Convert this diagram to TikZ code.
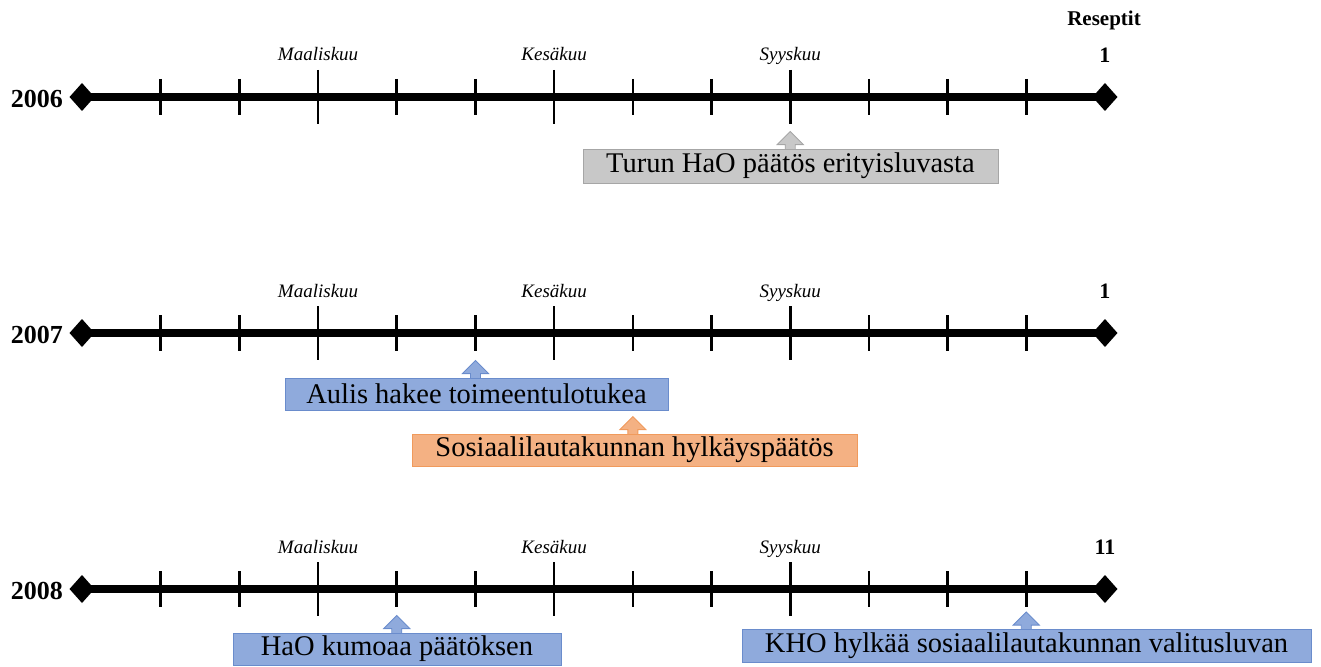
\documentclass[tikz,border=0pt]{standalone}
\usepackage{fontspec}
\setmainfont{Liberation Serif}
\usetikzlibrary{calc}
\definecolor{grayfill}{HTML}{C8C8C8}
\definecolor{grayline}{HTML}{A6A6A6}
\definecolor{bluefill}{HTML}{8FAADC}
\definecolor{blueline}{HTML}{6A8CCC}
\definecolor{orangefill}{HTML}{F4B183}
\definecolor{orangeline}{HTML}{F09A5C}
\tikzset{
  axis/.style={line width=8pt},
  endmark/.style={fill=black, draw=none},
  minortick/.style={line width=2.6pt},
  majortick/.style={line width=2.6pt},
  yearlabel/.style={anchor=east, inner sep=0pt, font=\fontsize{26}{28}\selectfont\bfseries},
  monthlabel/.style={anchor=base, inner sep=0pt, font=\fontsize{19}{21}\selectfont\itshape},
  countlabel/.style={inner sep=0pt, font=\fontsize{22}{24}\selectfont\bfseries},
  eventbox/.style={inner sep=0pt, line width=0.9pt, font=\fontsize{28.5}{30}\selectfont},
  graybox/.style={eventbox, fill=grayfill, draw=grayline},
  bluebox/.style={eventbox, fill=bluefill, draw=blueline},
  orangebox/.style={eventbox, fill=orangefill, draw=orangeline},
  grayarrow/.style={fill=grayfill, draw=grayline, line width=0.9pt, line join=miter},
  bluearrow/.style={fill=bluefill, draw=blueline, line width=0.9pt, line join=miter},
  orangearrow/.style={fill=orangefill, draw=orangeline, line width=0.9pt, line join=miter},
}
% block arrow pointing up from a box top to just under a tick
\newcommand{\uparrowfrom}[3]{%
  \draw[#1] (#2.north -| #3) ++(-5,1) -- ++(0,-5) -- ++(-8,0) -- ++(13,-13)
    -- ++(13,13) -- ++(-8,0) -- ++(0,5) -- cycle;}
\begin{document}
\begin{tikzpicture}[x=1pt, y=-1pt]
\useasboundingbox (0,0) rectangle (1321,666);

\node[countlabel, font=\fontsize{21}{23}\selectfont\bfseries] (reseptit) at (1104,20) {Reseptit};

% three yearly timelines
\foreach \row/\yy/\year/\cnt in {1/97/2006/1, 2/333/2007/1, 3/589/2008/11} {
  \foreach \k in {0,...,13} {
    \coordinate (t\row-\k) at ({82+\k*78.69}, \yy);
  }
  \draw[axis] (t\row-0) -- (t\row-13);
  \fill[endmark] (t\row-0) ++(-12.5,0) -- ++(12.5,-14) -- ++(12.5,14) -- ++(-12.5,14) -- cycle;
  \fill[endmark] (t\row-13) ++(-12.5,0) -- ++(12.5,-14) -- ++(12.5,14) -- ++(-12.5,14) -- cycle;
  \foreach \k in {1,2,4,5,7,8,10,11,12} {
    \draw[minortick] (t\row-\k) ++(0,-18) -- ++(0,36);
  }
  \foreach \k in {3,6,9} {
    \draw[majortick] (t\row-\k) ++(0,-27) -- ++(0,54);
  }
  \node[yearlabel] (year\row) at (63, \yy+2) {\year};
  \node[monthlabel] (mar\row) at ($(t\row-3)+(0,-36)$) {Maaliskuu};
  \node[monthlabel] (jun\row) at ($(t\row-6)+(0,-36)$) {Kesäkuu};
  \node[monthlabel] (sep\row) at ($(t\row-9)+(0,-36)$) {Syyskuu};
  \node[countlabel] (count\row) at ($(t\row-13)+(0,-42)$) {\cnt};
}

% events
\node[graybox, minimum width=415pt, minimum height=34pt] (e1) at (790.5,166) {Turun HaO päätös erityisluvasta};
\uparrowfrom{grayarrow}{e1}{t1-9}
\node[graybox, minimum width=415pt, minimum height=34pt] at (e1) {Turun HaO päätös erityisluvasta};

\node[bluebox, minimum width=383pt, minimum height=32pt] (e2) at (476.5,394) {Aulis hakee toimeentulotukea};
\uparrowfrom{bluearrow}{e2}{t2-5}
\node[bluebox, minimum width=383pt, minimum height=32pt] at (e2) {Aulis hakee toimeentulotukea};

\node[orangebox, minimum width=445pt, minimum height=32pt] (e3) at (634.5,450) {Sosiaalilautakunnan hylkäyspäätös};
\uparrowfrom{orangearrow}{e3}{t2-7}
\node[orangebox, minimum width=445pt, minimum height=32pt] at (e3) {Sosiaalilautakunnan hylkäyspäätös};

\node[bluebox, minimum width=328pt, minimum height=32pt] (e4) at (397,649) {HaO kumoaa päätöksen};
\uparrowfrom{bluearrow}{e4}{t3-4}
\node[bluebox, minimum width=328pt, minimum height=32pt] at (e4) {HaO kumoaa päätöksen};

\node[bluebox, minimum width=569pt, minimum height=33pt] (e5) at (1026.5,646) {KHO hylkää sosiaalilautakunnan valitusluvan};
\uparrowfrom{bluearrow}{e5}{t3-12}
\node[bluebox, minimum width=569pt, minimum height=33pt] at (e5) {KHO hylkää sosiaalilautakunnan valitusluvan};
\end{tikzpicture}
\end{document}
